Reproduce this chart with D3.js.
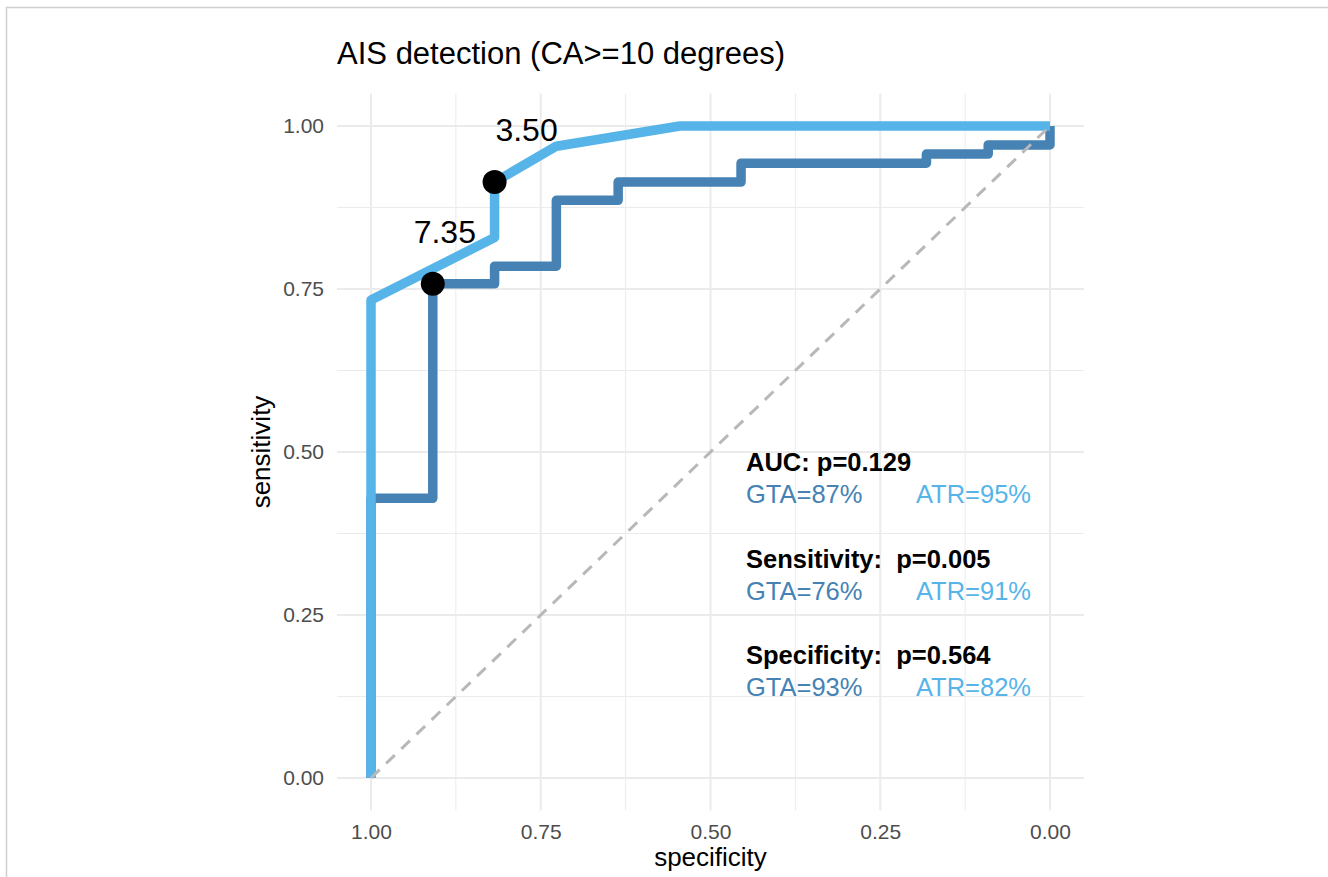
<!DOCTYPE html>
<html>
<head>
<meta charset="utf-8">
<script src="https://cdn.jsdelivr.net/npm/d3@7"></script>
<style>
  body { margin: 0; background: #fff; }
  text { font-family: "Liberation Sans", Arial, sans-serif; white-space: pre; }
</style>
</head>
<body>
<div class="container"></div>
<script>
// ROC data (specificity, sensitivity)
var gtaSpec = [1, 1, 0.909, 0.909, 0.818, 0.818, 0.727, 0.727, 0.636, 0.636, 0.455, 0.455, 0.182, 0.182, 0.091, 0.091, 0, 0];
var gtaSens = [0, 0.429, 0.429, 0.758, 0.758, 0.785, 0.785, 0.886, 0.886, 0.914, 0.914, 0.943, 0.943, 0.957, 0.957, 0.971, 0.971, 1];
var atrSpec = [1, 1, 0.818, 0.818, 0.727, 0.545, 0];
var atrSens = [0, 0.733, 0.829, 0.914, 0.969, 1, 1];

// best thresholds
var threshLabels = ["7.35", "3.50"];
var threshSpec = [0.909, 0.818];
var threshSens = [0.758, 0.914];

var tickValues = [1, 0.75, 0.5, 0.25, 0];
var minorValues = [0.875, 0.625, 0.375, 0.125];

var statTitles = ["AUC: p=0.129", "Sensitivity:  p=0.005", "Specificity:  p=0.564"];
var gtaStats = ["GTA=87%", "GTA=76%", "GTA=93%"];
var atrStats = ["ATR=95%", "ATR=91%", "ATR=82%"];

var chartTitle = "AIS detection (CA>=10 degrees)";

var svgWidth = 1328;
var svgHeight = 877;
var darkBlue = "#4682B4";
var lightBlue = "#56B4E9";

var svg = d3.select(".container")
  .append("svg")
  .attr("width", svgWidth)
  .attr("height", svgHeight);

// thin frame at top and left
svg.append("line").attr("x1", 6).attr("x2", svgWidth).attr("y1", 7.5).attr("y2", 7.5)
  .attr("stroke", "#cfcfcf").attr("stroke-width", 1.5);
svg.append("line").attr("x1", 6.5).attr("x2", 6.5).attr("y1", 7).attr("y2", svgHeight)
  .attr("stroke", "#cfcfcf").attr("stroke-width", 1.5);

// scales (x reversed, 5% expansion gives the panel)
var x = d3.scaleLinear().domain([1, 0]).range([371, 1050]);
var y = d3.scaleLinear().domain([0, 1]).range([778, 126]);
var panel = { left: x(1.05), right: x(-0.05), top: y(1.05), bottom: y(-0.05) };

var grid = svg.append("g");
// minor grid
minorValues.forEach(function(v) {
  grid.append("line").attr("x1", x(v)).attr("x2", x(v)).attr("y1", panel.top).attr("y2", panel.bottom)
    .attr("stroke", "#ebebeb").attr("stroke-width", 1);
  grid.append("line").attr("x1", panel.left).attr("x2", panel.right).attr("y1", y(v)).attr("y2", y(v))
    .attr("stroke", "#ebebeb").attr("stroke-width", 1);
});
// major grid
tickValues.forEach(function(v) {
  grid.append("line").attr("x1", x(v)).attr("x2", x(v)).attr("y1", panel.top).attr("y2", panel.bottom)
    .attr("stroke", "#ebebeb").attr("stroke-width", 2);
  grid.append("line").attr("x1", panel.left).attr("x2", panel.right).attr("y1", y(v)).attr("y2", y(v))
    .attr("stroke", "#ebebeb").attr("stroke-width", 2);
});

// axes (no domain / tick lines, just labels)
var bottomAxis = d3.axisBottom(x).tickValues(tickValues).tickFormat(d3.format(".2f")).tickSize(0).tickPadding(0);
var leftAxis = d3.axisLeft(y).tickValues(tickValues).tickFormat(d3.format(".2f")).tickSize(0).tickPadding(0);

var xAxis = svg.append("g")
  .attr("transform", `translate(0, ${panel.bottom + 13})`)
  .call(bottomAxis);
var yAxis = svg.append("g")
  .attr("transform", `translate(${panel.left - 13}, 0)`)
  .call(leftAxis);
[xAxis, yAxis].forEach(function(a) {
  a.select(".domain").remove();
  a.selectAll("text")
    .attr("fill", "#4d4d4d")
    .style("font-size", "21px")
    .style("font-family", "Liberation Sans, Arial, sans-serif");
});
xAxis.selectAll("text").attr("dy", "0.75em");

// axis titles
svg.append("text")
  .attr("x", (panel.left + panel.right) / 2)
  .attr("y", 866)
  .attr("text-anchor", "middle")
  .style("font-size", "26px")
  .text("specificity");
svg.append("text")
  .attr("transform", `translate(270, ${(panel.top + panel.bottom) / 2}) rotate(-90)`)
  .attr("text-anchor", "middle")
  .style("font-size", "26px")
  .text("sensitivity");

// title
svg.append("text")
  .attr("x", panel.left)
  .attr("y", 64)
  .style("font-size", "31px")
  .text(chartTitle);

// ROC curves
var line = d3.line().x(d => x(d[0])).y(d => y(d[1]));
var gtaData = gtaSpec.map((s, i) => [s, gtaSens[i]]);
var atrData = atrSpec.map((s, i) => [s, atrSens[i]]);

svg.append("path")
  .datum(gtaData)
  .attr("d", line)
  .attr("fill", "none")
  .attr("stroke", darkBlue)
  .attr("stroke-width", 9.5)
  .attr("stroke-linejoin", "round");

svg.append("path")
  .datum(atrData)
  .attr("d", line)
  .attr("fill", "none")
  .attr("stroke", lightBlue)
  .attr("stroke-width", 9.5)
  .attr("stroke-linejoin", "round");

// chance diagonal
svg.append("line")
  .attr("x1", x(1)).attr("y1", y(0))
  .attr("x2", x(0)).attr("y2", y(1))
  .attr("stroke", "#b8b8b8")
  .attr("stroke-width", 3)
  .attr("stroke-dasharray", "12,9");

// threshold points and labels
var labelNudge = [[12, -41], [32, -41]];
threshLabels.forEach(function(lbl, i) {
  svg.append("circle")
    .attr("cx", x(threshSpec[i]))
    .attr("cy", y(threshSens[i]))
    .attr("r", 12)
    .attr("fill", "#000");
  svg.append("text")
    .attr("x", x(threshSpec[i]) + labelNudge[i][0])
    .attr("y", y(threshSens[i]) + labelNudge[i][1])
    .attr("text-anchor", "middle")
    .style("font-size", "32px")
    .text(lbl);
});

// stats text
var statTop = [471, 568, 664];
statTitles.forEach(function(t, i) {
  svg.append("text")
    .attr("x", 746)
    .attr("y", statTop[i])
    .style("font-size", "25.5px")
    .style("font-weight", "bold")
    .text(t);
  svg.append("text")
    .attr("x", 746)
    .attr("y", statTop[i] + 32)
    .attr("fill", darkBlue)
    .style("font-size", "25.5px")
    .text(gtaStats[i]);
  svg.append("text")
    .attr("x", 916)
    .attr("y", statTop[i] + 32)
    .attr("fill", lightBlue)
    .style("font-size", "25.5px")
    .text(atrStats[i]);
});
</script>
</body>
</html>
